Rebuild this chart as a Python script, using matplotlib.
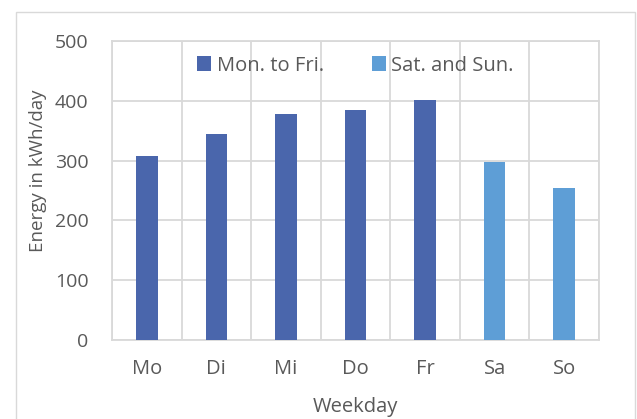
import matplotlib
matplotlib.use("Agg")
import matplotlib.pyplot as plt
from matplotlib.patches import Rectangle

days = ['Mo', 'Di', 'Mi', 'Do', 'Fr', 'Sa', 'So']
weekday_days = ['Mo', 'Di', 'Mi', 'Do', 'Fr']
weekday_energy = [308, 345, 378, 385, 401]
weekend_days = ['Sa', 'So']
weekend_energy = [298, 255]

dark_blue = '#4A66AC'
light_blue = '#5E9ED6'
grid_col = '#D9D9D9'
text_col = '#595959'

plt.rcParams['font.family'] = ['Open Sans', 'DejaVu Sans']

fig = plt.figure(figsize=(6.37, 4.19), dpi=100)
ax = fig.add_axes([112 / 637, 1 - 340 / 419, 487 / 637, 299 / 419])

# outer chart frame
fig.patches.append(Rectangle((16 / 637, -0.1), 619 / 637, 1.1 - 12 / 419,
                             transform=fig.transFigure, fill=False,
                             edgecolor=grid_col, linewidth=1))

xw = [days.index(d) for d in weekday_days]
xe = [days.index(d) for d in weekend_days]
ax.bar(xw, weekday_energy, width=0.31, color=dark_blue, label='Mon. to Fri.', zorder=3)
ax.bar(xe, weekend_energy, width=0.31, color=light_blue, label='Sat. and Sun.', zorder=3)

ax.set_xlim(-0.5, len(days) - 0.5)
ax.set_ylim(0, 500)
ax.set_yticks(range(0, 501, 100))
ax.set_xticks(range(len(days)))
ax.set_xticklabels(days)
ax.set_xticks([i - 0.5 for i in range(len(days) + 1)], minor=True)
ax.grid(True, which='major', axis='y', color=grid_col, linewidth=1.3, zorder=0)
ax.grid(True, which='minor', axis='x', color=grid_col, linewidth=1.3, zorder=0)
ax.tick_params(which='both', length=0)
ax.tick_params(axis='y', pad=17, labelsize=14, labelcolor=text_col)
ax.tick_params(axis='x', pad=14, labelsize=14.5, labelcolor=text_col)
for s in ax.spines.values():
    s.set_color(grid_col)
    s.set_linewidth(1.3)

ax.set_ylabel('Energy in kWh/day', fontsize=13.5, color=text_col)
ax.yaxis.set_label_coords((47 - 112) / 487, (340 - 171) / 299)
ax.set_xlabel('Weekday', fontsize=14.5, color=text_col)
ax.xaxis.set_label_coords(0.5, (340 - 397) / 299)

ax.legend(loc='center', bbox_to_anchor=(0.5, 0.918), ncol=2, frameon=False,
          fontsize=14.5, labelcolor=text_col, handlelength=0.7, handleheight=0.7,
          handletextpad=0.25, columnspacing=2.4)

fig.savefig('out.png', dpi=100)
